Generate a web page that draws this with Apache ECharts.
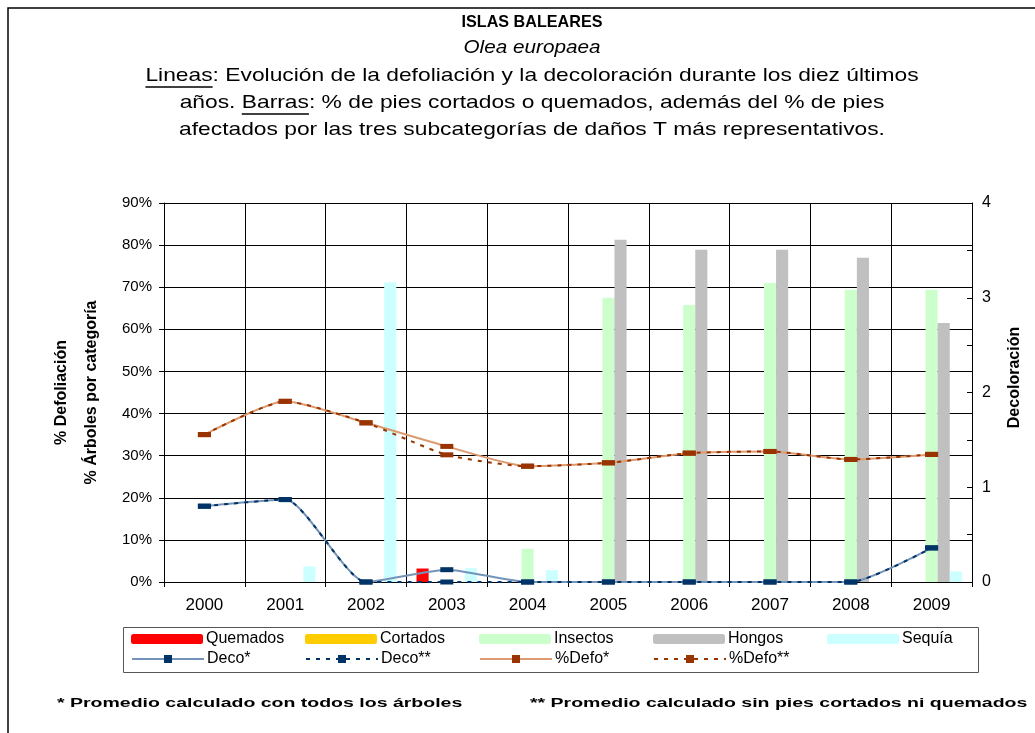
<!DOCTYPE html>
<html><head><meta charset="utf-8">
<script src="https://cdn.jsdelivr.net/npm/echarts@6/dist/echarts.min.js"></script>
<style>html,body{margin:0;padding:0;background:#fff}#c{width:1035px;height:733px}</style>
</head><body><div id="c"></div>
<script>
// ---- data ----
const years = ['2000','2001','2002','2003','2004','2005','2006','2007','2008','2009'];
const quemados = [0, 0, 0, 3.2, 0, 0, 0, 0, 0, 0];
const cortados = [0, 0, 0, 0, 0, 0, 0, 0, 0, 0];
const insectos = [0, 0, 0, 0, 7.9, 67.5, 65.8, 71.0, 69.4, 69.4];
const hongos   = [0, 0, 0, 0, 0, 81.3, 78.9, 78.9, 77.0, 61.5];
const sequia   = [0, 3.7, 71.2, 3.3, 2.8, 0, 0, 0, 0, 2.5];
const decoAll  = [0.80, 0.87, 0.0, 0.13, 0.0, 0.0, 0.0, 0.0, 0.0, 0.36];
const decoSin  = [0.80, 0.87, 0.0, 0.0, 0.0, 0.0, 0.0, 0.0, 0.0, 0.36];
const defoAll  = [35.0, 42.9, 37.8, 32.2, 27.5, 28.3, 30.6, 31.0, 29.1, 30.3];
const defoSin  = [35.0, 42.9, 37.8, 30.2, 27.5, 28.3, 30.6, 31.0, 29.1, 30.3];
const leftTicks = {min: 0, max: 90, interval: 10};
const rightTicks = {min: 0, max: 4, interval: 0.5};

const titleMain = 'ISLAS BALEARES';
const titleSpecies = 'Olea europaea';
const line3a = 'Lineas', line3b = ': Evolución de la defoliación y la decoloración durante los diez últimos';
const line4pre = 'años. ', line4a = 'Barras', line4b = ': % de pies cortados o quemados, además del % de pies';
const line5 = 'afectados por las tres subcategorías de daños T más representativos.';
const note1 = '* Promedio calculado con todos los árboles';
const note2 = '** Promedio calculado sin pies cortados ni quemados';

// ---- layout helpers ----
const FONT = '"Liberation Sans", Arial, sans-serif';
const mctx = document.createElement('canvas').getContext('2d');
function tw(s, size, weight, style) {
  mctx.font = (style || 'normal') + ' ' + (weight || 'normal') + ' ' + size + 'px ' + FONT;
  return mctx.measureText(s).width;
}
const CX = 532, FS = 19, SX = 1.2;
const w3 = tw(line3a + line3b, FS) * SX, x3 = CX - w3 / 2, w3a = tw(line3a, FS) * SX;
const w4 = tw(line4pre + line4a + line4b, FS) * SX, x4 = CX - w4 / 2;
const w4pre = tw(line4pre, FS) * SX, w4a = tw(line4a, FS) * SX;
const Y3 = 76, Y4 = 103, Y5 = 130;
const NSX = 1.5;

function txt(text, x, y, opts, sx) {
  return {
    type: 'text', x: x, y: y, silent: true, scaleX: sx || 1, originX: 0, originY: 0,
    style: Object.assign({text: text, fill: '#000', fontFamily: FONT, fontSize: FS,
      align: 'left', verticalAlign: 'middle'}, opts || {})
  };
}

const chart = echarts.init(document.getElementById('c'));
const barBase = {type: 'bar', barGap: '0%', barCategoryGap: '25%'};
const lineBase = {type: 'line', smooth: 0.2, symbol: 'rect', symbolSize: [13, 5]};

const legendItems = [
  {name: 'Quemados', left: 131, top: 631},
  {name: 'Cortados', left: 305, top: 631},
  {name: 'Insectos', left: 479, top: 631},
  {name: 'Hongos', left: 653, top: 631},
  {name: 'Sequía', left: 827, top: 631},
  {name: 'Deco*', left: 131, top: 651},
  {name: 'Deco**', left: 305, top: 651},
  {name: '%Defo*', left: 479, top: 651},
  {name: '%Defo**', left: 653, top: 651}
];

chart.setOption({
  animation: false,
  backgroundColor: '#fff',
  textStyle: {fontFamily: FONT},
  grid: {left: 164, right: 63, top: 203, bottom: 151, containLabel: false},
  legend: legendItems.map(it => ({
    data: [it.name], left: it.left, top: it.top, padding: 0,
    itemWidth: 72, itemHeight: 10, itemGap: 0, selectedMode: false,
    textStyle: {fontSize: 16, color: '#000', fontFamily: FONT, padding: [0, 0, 0, -2]}
  })),
  xAxis: {
    type: 'category', data: years,
    axisLine: {lineStyle: {color: '#000', width: 1}},
    axisTick: {show: true, length: 5, lineStyle: {color: '#000'}},
    axisLabel: {fontSize: 17, color: '#000', margin: 15},
    splitLine: {show: true, lineStyle: {color: '#000', width: 1}}
  },
  yAxis: [{
    type: 'value', min: leftTicks.min, max: leftTicks.max, interval: leftTicks.interval,
    name: '% Defoliación\n% Árboles por categoría', nameLocation: 'middle', nameRotate: 90, nameGap: 57,
    nameTextStyle: {fontSize: 16, fontWeight: 'bold', color: '#000', lineHeight: 30},
    axisLine: {show: true, lineStyle: {color: '#000'}},
    axisTick: {show: true, length: 5, lineStyle: {color: '#000'}},
    axisLabel: {formatter: '{value}%', fontSize: 15, color: '#000', margin: 12},
    splitLine: {show: true, lineStyle: {color: '#000', width: 1}}
  }, {
    type: 'value', position: 'right', min: rightTicks.min, max: rightTicks.max, interval: rightTicks.interval,
    name: 'Decoloración', nameLocation: 'middle', nameRotate: 90, nameGap: 35,
    nameTextStyle: {fontSize: 16, fontWeight: 'bold', color: '#000', padding: [0, 0, 0, 30]},
    axisLine: {show: true, lineStyle: {color: '#000'}},
    axisTick: {show: true, inside: true, length: 5, lineStyle: {color: '#000'}},
    axisLabel: {formatter: v => (Number.isInteger(v) ? String(v) : ''), fontSize: 16, color: '#000', margin: 10},
    splitLine: {show: false}
  }],
  series: [
    Object.assign({}, barBase, {name: 'Quemados', data: quemados, itemStyle: {color: '#ff0000'}}),
    Object.assign({}, barBase, {name: 'Cortados', data: cortados, itemStyle: {color: '#ffcc00'}}),
    Object.assign({}, barBase, {name: 'Insectos', data: insectos, itemStyle: {color: '#ccffcc'}}),
    Object.assign({}, barBase, {name: 'Hongos', data: hongos, itemStyle: {color: '#c0c0c0'}}),
    Object.assign({}, barBase, {name: 'Sequía', data: sequia, itemStyle: {color: '#ccffff'}}),
    Object.assign({}, lineBase, {name: 'Deco*', yAxisIndex: 1, data: decoAll,
      itemStyle: {color: '#003366'}, lineStyle: {color: '#7393b8', width: 2}}),
    Object.assign({}, lineBase, {name: 'Deco**', yAxisIndex: 1, data: decoSin,
      itemStyle: {color: '#003366'}, lineStyle: {color: '#003366', width: 2, type: [4, 6]}}),
    Object.assign({}, lineBase, {name: '%Defo*', data: defoAll,
      itemStyle: {color: '#993300'}, lineStyle: {color: '#dc9a70', width: 2}}),
    Object.assign({}, lineBase, {name: '%Defo**', data: defoSin,
      itemStyle: {color: '#993300'}, lineStyle: {color: '#993300', width: 2, type: [4, 6]}})
  ],
  graphic: [
    {type: 'polyline', silent: true, shape: {points: [[8, 740], [8, 8], [1040, 8]]},
      style: {stroke: '#000', lineWidth: 1.5, fill: null}},
    {type: 'rect', silent: true, shape: {x: 123.5, y: 627.5, width: 855, height: 45},
      style: {stroke: '#555', lineWidth: 1, fill: null}},
    txt(titleMain, CX, 22, {align: 'center', fontWeight: 'bold', fontSize: 17}, 0.95),
    txt(titleSpecies, CX, 48, {align: 'center', fontStyle: 'italic', fontSize: 18}, 1.15),
    txt(line3a + line3b, x3, Y3, null, SX),
    {type: 'line', silent: true, shape: {x1: x3, y1: Y3 + 11, x2: x3 + w3a, y2: Y3 + 11},
      style: {stroke: '#000', lineWidth: 1.5}},
    txt(line4pre + line4a + line4b, x4, Y4, null, SX),
    {type: 'line', silent: true, shape: {x1: x4 + w4pre, y1: Y4 + 11, x2: x4 + w4pre + w4a, y2: Y4 + 11},
      style: {stroke: '#000', lineWidth: 1.5}},
    txt(line5, CX, Y5, {align: 'center'}, SX),
    txt(note1, 57, 703, {fontWeight: 'bold', fontSize: 13}, NSX),
    txt(note2, 530, 703, {fontWeight: 'bold', fontSize: 13}, NSX)
  ]
});
</script>
</body></html>
